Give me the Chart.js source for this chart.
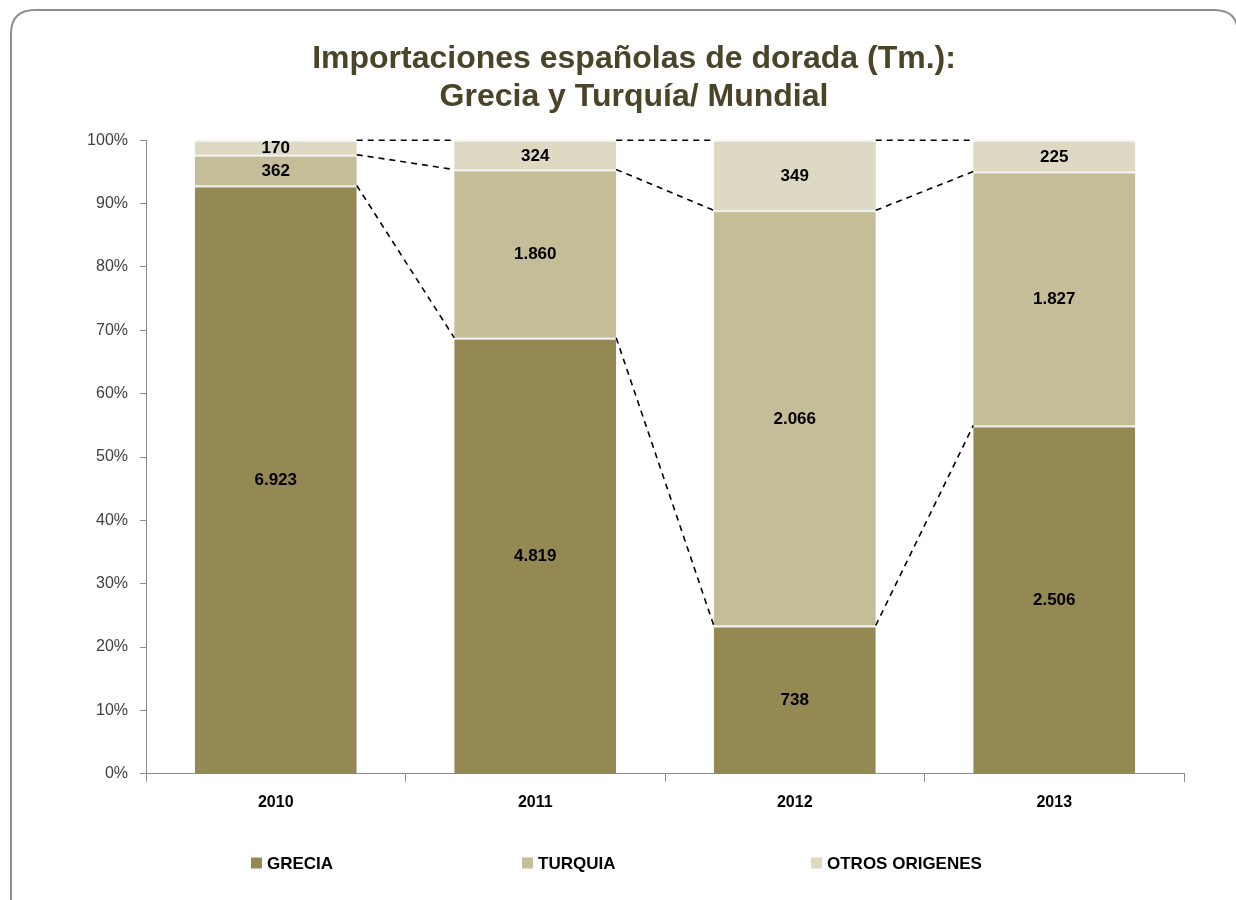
<!DOCTYPE html>
<html>
<head>
<meta charset="utf-8">
<script src="https://cdn.jsdelivr.net/npm/chart.js@4/dist/chart.umd.min.js"></script>
<style>
  html, body { margin: 0; padding: 0; background: #fff; }
  #wrap { width: 1236px; height: 900px; position: relative; }
</style>
</head>
<body>
<div id="wrap"><canvas id="c" width="1236" height="900"></canvas></div>
<script>
const years = ['2010', '2011', '2012', '2013'];
const grecia = [6923, 4819, 738, 2506];
const turquia = [362, 1860, 2066, 1827];
const otros = [170, 324, 349, 225];
const seriesNames = ['GRECIA', 'TURQUIA', 'OTROS ORIGENES'];
const seriesColors = ['#958953', '#C4BD97', '#DDD9C3'];
const titleLines = ['Importaciones españolas de dorada (Tm.):', 'Grecia y Turquía/ Mundial'];

const raw = [grecia, turquia, otros];
const totals = years.map((_, i) => grecia[i] + turquia[i] + otros[i]);
const pct = raw.map(s => s.map((v, i) => v / totals[i] * 100));

function fmt(v) { return String(v).replace(/\B(?=(\d{3})+(?!\d))/g, '.'); }

const FONT = '"Liberation Sans", Arial, sans-serif';

const framePlugin = {
  id: 'frame',
  beforeDraw(chart) {
    const ctx = chart.ctx;
    ctx.save();
    ctx.strokeStyle = '#8e8e8e';
    ctx.lineWidth = 2;
    const x = 11, y = 10, w = 1236 - 11 + 2, h = 920, r = 24;
    ctx.beginPath();
    ctx.moveTo(x + r, y);
    ctx.lineTo(x + w - r, y);
    ctx.quadraticCurveTo(x + w, y, x + w, y + r);
    ctx.lineTo(x + w, y + h - r);
    ctx.quadraticCurveTo(x + w, y + h, x + w - r, y + h);
    ctx.lineTo(x + r, y + h);
    ctx.quadraticCurveTo(x, y + h, x, y + h - r);
    ctx.lineTo(x, y + r);
    ctx.quadraticCurveTo(x, y, x + r, y);
    ctx.stroke();
    ctx.restore();
  }
};

const shadowPlugin = {
  id: 'barShadow',
  beforeDatasetsDraw(chart) {
    const ctx = chart.ctx;
    ctx.save();
    ctx.shadowColor = 'rgba(0,0,0,0.18)';
    ctx.shadowBlur = 4;
  },
  afterDatasetsDraw(chart) {
    chart.ctx.restore();
  }
};

const seriesLinesPlugin = {
  id: 'seriesLines',
  afterDatasetsDraw(chart) {
    const ctx = chart.ctx;
    ctx.save();
    ctx.strokeStyle = '#000';
    ctx.lineWidth = 1.6;
    ctx.setLineDash([6, 5]);
    chart.data.datasets.forEach((ds, di) => {
      const meta = chart.getDatasetMeta(di);
      for (let i = 0; i < meta.data.length - 1; i++) {
        const a = meta.data[i], b = meta.data[i + 1];
        ctx.beginPath();
        ctx.moveTo(a.x + a.width / 2, a.y);
        ctx.lineTo(b.x - b.width / 2, b.y);
        ctx.stroke();
      }
    });
    ctx.restore();
  }
};

const labelsPlugin = {
  id: 'valueLabels',
  afterDatasetsDraw(chart) {
    const ctx = chart.ctx;
    ctx.save();
    ctx.fillStyle = '#000';
    ctx.font = 'bold 17px ' + FONT;
    ctx.textAlign = 'center';
    ctx.textBaseline = 'middle';
    chart.data.datasets.forEach((ds, di) => {
      const meta = chart.getDatasetMeta(di);
      meta.data.forEach((bar, i) => {
        const y = (bar.y + bar.base) / 2;
        ctx.fillText(fmt(raw[di][i]), bar.x, y + 1);
      });
    });
    ctx.restore();
  }
};

const legendPlugin = {
  id: 'customLegend',
  afterDraw(chart) {
    const ctx = chart.ctx;
    const xs = [251, 522, 811];
    const yc = 863;
    ctx.save();
    ctx.font = 'bold 17px ' + FONT;
    ctx.textBaseline = 'middle';
    ctx.textAlign = 'left';
    seriesNames.forEach((name, i) => {
      ctx.fillStyle = seriesColors[i];
      ctx.fillRect(xs[i], yc - 5.5, 11, 11);
      ctx.fillStyle = '#000';
      ctx.fillText(name, xs[i] + 16, yc + 1);
    });
    ctx.restore();
  }
};

new Chart(document.getElementById('c'), {
  type: 'bar',
  data: {
    labels: years,
    datasets: seriesNames.map((n, i) => ({
      label: n,
      data: pct[i],
      backgroundColor: seriesColors[i],
      borderColor: '#ffffff',
      borderWidth: { top: 2, bottom: 0, left: 0, right: 0 },
      borderSkipped: false,
      categoryPercentage: 1,
      barPercentage: 0.624
    }))
  },
  options: {
    responsive: false,
    animation: false,
    layout: { padding: { left: 84, right: 52, top: 0, bottom: 77 } },
    plugins: {
      legend: { display: false },
      tooltip: { enabled: false },
      title: {
        display: true,
        text: titleLines,
        color: '#4A4528',
        font: { family: FONT, size: 32, weight: 'bold', lineHeight: 1.16 },
        padding: { top: 41, bottom: 25 }
      }
    },
    scales: {
      x: {
        stacked: true,
        grid: { display: true, drawOnChartArea: false, drawTicks: true, tickLength: 8, color: '#8a8a8a', offset: true },
        border: { display: true, color: '#8a8a8a', width: 1 },
        ticks: { color: '#000', font: { family: FONT, size: 16, weight: 'bold' }, padding: 11 }
      },
      y: {
        stacked: true,
        min: 0, max: 100,
        afterFit(s) { s.width = 62; },
        grid: { display: true, drawOnChartArea: false, drawTicks: true, tickLength: 6, color: '#8a8a8a' },
        border: { display: true, color: '#8a8a8a', width: 1 },
        ticks: { stepSize: 10, color: '#404040', font: { family: FONT, size: 16 }, padding: 12, callback: v => v + '%' }
      }
    }
  },
  plugins: [framePlugin, shadowPlugin, seriesLinesPlugin, labelsPlugin, legendPlugin]
});
</script>
</body>
</html>
